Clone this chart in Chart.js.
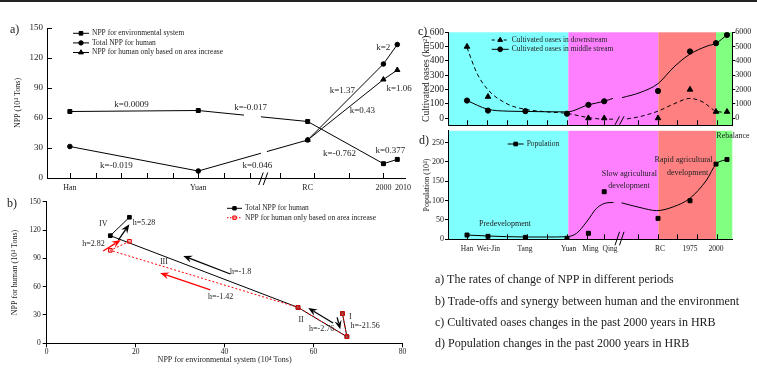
<!DOCTYPE html>
<html>
<head>
<meta charset="utf-8">
<title>NPP, oases and population in the HRB</title>
<script src="https://cdn.jsdelivr.net/npm/chart.js@4.4.1/dist/chart.umd.min.js"></script>
<style>
  body { margin: 0; background: #fff; font-family: "Liberation Serif", "Times New Roman", serif; color: #222; }
  #page { position: relative; width: 757px; height: 369px; overflow: hidden; }
  #page canvas { position: absolute; }
  .rule { position: absolute; left: 0; top: 0; width: 757px; height: 2px; background: #222; }
  .tag { position: absolute; font-size: 12px; line-height: 14px; }
  .cap { position: absolute; left: 435px; font-size: 12px; line-height: 14px; white-space: nowrap; }
</style>
</head>
<body>
<div id="page">
  <div class="rule"></div>
  <canvas id="npp" width="416" height="200" style="left:0;top:0"></canvas>
  <canvas id="trade" width="416" height="179" style="left:0;top:190px"></canvas>
  <canvas id="oases" width="341" height="112" style="left:416px;top:20px"></canvas>
  <canvas id="pop" width="341" height="135" style="left:416px;top:125px"></canvas>
  <div class="tag" style="left:10px;top:22px">a)</div>
  <div class="tag" style="left:7px;top:196px">b)</div>
  <div class="tag" style="left:418px;top:24px">c)</div>
  <div class="tag" style="left:419px;top:133px">d)</div>
  <div class="cap" style="top:272px">a) The rates of change of NPP in different periods</div>
  <div class="cap" style="top:293.5px">b) Trade-offs and synergy between human and the environment</div>
  <div class="cap" style="top:314.5px">c) Cultivated oases changes in the past 2000 years in HRB</div>
  <div class="cap" style="top:335.5px">d) Population changes in the past 2000 years in HRB</div>
</div>
<script>
Chart.defaults.font.family = "'Liberation Serif', 'Times New Roman', serif";
Chart.defaults.color = '#222';
Chart.defaults.animation = false;
Chart.defaults.events = [];
const FONT = "'Liberation Serif', 'Times New Roman', serif";

/* ---------- a) and b): NPP per period (10^4 Tons) ---------- */
const periodsA = ['Han', 'Yuan', 'RC', '2000', '2010'];
const periodPosA = [0, 5, 9.26, 12.21, 12.75];          // place on the broken time axis
const periodLabelPosA = [0, 5, 9.26, 12.21, 12.97];
const tickPosA = [0, 1, 2, 3, 4, 5, 6, 7, 8.18, 9.52, 10.88, 12.21];
const nppEnv = [66.5, 67.5, 56.5, 14.3, 18.6];          // NPP for environmental system
const nppHuman = [31.5, 7, 38, 114, 133.5];             // total NPP for human
const nppArea = [null, null, 38, 98.5, 108];            // NPP for human only based on area increase
const slopeText = ['k=0.0009', 'k=-0.017', 'k=1.37', 'k=0.43', 'k=-0.762', 'k=-0.019', 'k=0.046', 'k=2', 'k=1.06', 'k=0.377'];
const slopeAt = [[2.4, 73.7], [7.04, 70.4], [10.61, 87.7], [11.39, 67], [10.5, 24.4], [1.81, 12.7], [7.3, 12.7], [12.2, 130], [12.82, 89.4], [12.48, 27.7]];

const tradeText = ['IV', 'h=5.28', 'h=2.82', 'III', 'h=-1.8', 'h=-1.42', 'II', 'h=-2.76', 'I', 'h=-21.56'];
const tradeAt = [[12.7, 126], [21.9, 128], [10.5, 105.8], [26.35, 85.7], [43.6, 75.2], [39.1, 49.3], [57.2, 24.7], [61.8, 15.1], [68.25, 28.2], [71.6, 18.6]];
// arrows: from (x, y) to (x, y), colour
const tradeArrows = [
  [41.3, 73.4, 30.7, 92.5, '#000'],
  [36.8, 56.5, 25.5, 74.5, '#f00'],
  [16.1, 109.4, 18.6, 126, '#000'],
  [12.7, 97.8, 16.65, 109.4, '#f00'],
  [64.4, 21.5, 58.8, 37.4, '#000'],
  [65.3, 27.5, 66, 14.8, '#000']
];

/* ---------- c) and d): cultivated oases and population ---------- */
const stagePos = [0, 1.05, 2.92, 5, 6.07, 6.86, 9.55, 11.15, 12.45, 13];   // Han ... 2010
const stageLabels = ['Han', 'Wei-Jin', 'Tang', 'Yuan', 'Ming', 'Qing', 'RC', '1975', '2000'];
const stageLabelPos = [0, 1.07, 2.9, 5.08, 6.17, 7.15, 9.65, 11.15, 12.45];
const tickPosCD = [0, 1, 2, 3, 4, 5, 6, 6.87, 8.55, 9.55, 10.5, 11.5, 12.5];
const stageEdges = [5.065, 9.565, 12.45];
const stageColours = ['#80ffff', '#ff80ff', '#ff8080', '#80ff80'];
const downstream = [500, 150, null, null, 0, 0, 0, 200, 45, 45];               // km2
const midstream = [1230, 530, 490, 310, 930, 1180, 1900, 4660, 5240, 5820];    // km2
const population = [11, 7.7, 5, 2.6, 15.5, 122.7, 54, 99.5, 194, 206];        // 10^4
// fitted curves as drawn in the figure (null = axis break)
const downFit = [[0, 493], [0.5, 313], [1.03, 201], [2, 100], [2.9, 62], [4, 44], [5, 33], [6.07, 4], [6.87, -7], [7.3, -7], [7.65, null],
  [8, -5], [8.65, 11], [9.55, 49], [10.35, 100], [11.15, 138], [11.8, 112], [12.45, 49], [13, 40]];
const midFit = [[0, 1230], [1.03, 625], [2, 490], [2.9, 470], [4, 445], [5, 440], [6.07, 934], [6.87, 1183], [7.3, 1384], [7.55, null],
  [7.75, 1431], [8.65, 1788], [9.55, 2413], [10.35, 3582], [11.15, 4476], [12, 5034], [12.45, 5235], [13, 5820]];
const popFit = [[0, 11], [1.07, 8.5], [1.98, 6.8], [2.93, 5.9], [3.98, 5.9], [4.98, 6.8], [5.48, 15.4], [5.98, 45], [6.48, 80], [6.98, 94], [7.32, 95], [7.5, null],
  [7.73, 94], [8.65, 82], [9.48, 74], [10.32, 84], [11.15, 106], [11.98, 153], [12.45, 194], [12.98, 206]];
const stageNotes = ['Predevelopment', 'Slow agricultural', 'development', 'Rapid agricultural', 'development', 'Rebalance'];
const stageNotesAt = [[1.9, 38.6], [8.12, 169.9], [8.1, 137.2], [10.83, 205.9], [11.03, 172.5], [13.3, 268]];

/* ---------- helpers ---------- */
const toPts = (xs, ys) => xs.map((x, i) => ({ x: x, y: ys[i] }));
const pairs = arr => arr.map(p => ({ x: p[0], y: p[1] }));
const plain = v => String(v);

function drawArrow(ctx, x0, y0, x1, y1, color) {
  const a = Math.atan2(y1 - y0, x1 - x0), L = 9, W = 3.6;
  const c = Math.cos(a), s = Math.sin(a);
  ctx.strokeStyle = color; ctx.fillStyle = color; ctx.lineWidth = 1.3;
  ctx.beginPath(); ctx.moveTo(x0, y0); ctx.lineTo(x1 - L * 0.7 * c, y1 - L * 0.7 * s); ctx.stroke();
  ctx.beginPath();
  ctx.moveTo(x1, y1);
  ctx.lineTo(x1 - L * c - W * s, y1 - L * s + W * c);
  ctx.lineTo(x1 - L * 0.65 * c, y1 - L * 0.65 * s);
  ctx.lineTo(x1 - L * c + W * s, y1 - L * s - W * c);
  ctx.closePath(); ctx.fill();
}

function drawLegend(ctx, lg) {
  ctx.save();
  ctx.font = lg.font + 'px ' + FONT;
  ctx.textBaseline = 'middle';
  lg.items.forEach((it, i) => {
    const y = lg.y + i * lg.dy;
    ctx.strokeStyle = it.color; ctx.lineWidth = 1;
    ctx.setLineDash(it.dash || []);
    ctx.beginPath(); ctx.moveTo(lg.x, y); ctx.lineTo(lg.x + lg.len, y); ctx.stroke();
    ctx.setLineDash([]);
    ctx.fillStyle = it.fill || it.color;
    Chart.helpers.drawPoint(ctx, { pointStyle: it.style, radius: it.r || 2.6, rotation: 0, borderWidth: 1 }, lg.x + lg.len / 2, y);
    ctx.fillStyle = '#222';
    ctx.fillText(it.text, lg.x + lg.len + 3, y);
  });
  ctx.restore();
}

// decorations: stage bands, axis-break gaps, inward ticks, "//" marks, notes, arrows, legend
function makeDeco(cfg) {
  return {
    id: 'deco',
    beforeDraw(chart) {
      if (!cfg.bands) return;
      const { ctx, chartArea: ca } = chart, x = chart.scales.x;
      const edges = [x.min].concat(cfg.bands.edges, [x.max]);
      ctx.save();
      cfg.bands.colours.forEach((col, i) => {
        const x0 = x.getPixelForValue(edges[i]), x1 = x.getPixelForValue(edges[i + 1]);
        ctx.fillStyle = col;
        ctx.fillRect(x0, ca.top, x1 - x0, ca.bottom - ca.top);
      });
      ctx.restore();
    },
    afterDatasetsDraw(chart) {
      if (!cfg.gaps) return;
      const ctx = chart.ctx, x = chart.scales.x, y = chart.scales.y;
      ctx.save(); ctx.fillStyle = '#fff';
      cfg.gaps.forEach(g => {
        const x0 = x.getPixelForValue(g[0]), x1 = x.getPixelForValue(g[1]);
        const y0 = y.getPixelForValue(g[3]), y1 = y.getPixelForValue(g[2]);
        ctx.fillRect(x0, y0, x1 - x0, y1 - y0);
      });
      ctx.restore();
    },
    afterDraw(chart) {
      const { ctx, chartArea: ca } = chart;
      ctx.save();
      ctx.strokeStyle = '#000'; ctx.lineWidth = 1;
      (cfg.inTicks || []).forEach(t => {
        const s = chart.scales[t.axis];
        t.values.forEach(v => {
          const p = Math.round(s.getPixelForValue(v)) + 0.5;
          ctx.beginPath();
          if (s.isHorizontal()) { ctx.moveTo(p, ca.bottom); ctx.lineTo(p, ca.bottom - t.len); }
          else { ctx.moveTo(ca.left, p); ctx.lineTo(ca.left + t.len, p); }
          ctx.stroke();
        });
      });
      (cfg.breaks || []).forEach(b => {
        const p = chart.scales.x.getPixelForValue(b.v), y0 = ca.bottom + b.lo, y1 = ca.bottom + b.hi;
        ctx.lineWidth = 1;
        [-3, 1.5].forEach(d => {
          ctx.beginPath(); ctx.moveTo(p + d - 2, y0); ctx.lineTo(p + d + 2.5, y1); ctx.stroke();
        });
      });
      if (cfg.arrows) {
        const x = chart.scales.x, y = chart.scales.y;
        cfg.arrows.forEach(a => drawArrow(ctx, x.getPixelForValue(a[0]), y.getPixelForValue(a[1]),
          x.getPixelForValue(a[2]), y.getPixelForValue(a[3]), a[4]));
      }
      if (cfg.notes) {
        const x = chart.scales.x, y = chart.scales[cfg.notes.yAxis || 'y'];
        ctx.font = cfg.notes.font + 'px ' + FONT;
        ctx.fillStyle = '#222'; ctx.textAlign = 'center'; ctx.textBaseline = 'middle';
        cfg.notes.text.forEach((t, i) => {
          ctx.fillText(t, x.getPixelForValue(cfg.notes.at[i][0]), y.getPixelForValue(cfg.notes.at[i][1]));
        });
      }
      ctx.restore();
      if (cfg.legend) drawLegend(ctx, cfg.legend);
    }
  };
}

const noGrid = { display: false, drawTicks: false };
const outGrid = { drawOnChartArea: false, tickLength: 4, color: '#000' };
const blackBorder = { color: '#000', width: 1 };

/* ---------- a) rates of change of NPP ---------- */
new Chart(document.getElementById('npp'), {
  type: 'line',
  data: {
    datasets: [
      { label: 'NPP for environmental system', data: toPts(periodPosA, nppEnv), borderColor: '#000', borderWidth: 1,
        pointStyle: 'rect', pointRadius: 2.8, pointBackgroundColor: '#000', pointBorderColor: '#000' },
      { label: 'Total NPP for human', data: toPts(periodPosA, nppHuman), borderColor: '#000', borderWidth: 1,
        pointStyle: 'circle', pointRadius: 2.3, pointBackgroundColor: '#000', pointBorderColor: '#000' },
      { label: 'NPP for human only based on area increase', data: toPts(periodPosA, nppArea), borderColor: '#000', borderWidth: 1,
        pointStyle: 'triangle', pointRadius: 3, pointBackgroundColor: '#000', pointBorderColor: '#000' }
    ]
  },
  options: {
    responsive: false,
    layout: { padding: { top: 28, right: 9 } },
    plugins: { legend: { display: false }, tooltip: { enabled: false } },
    scales: {
      x: {
        type: 'linear', min: -0.89, max: 13.06,
        afterFit: s => { s.height = 22; },
        afterBuildTicks: s => { s.ticks = periodLabelPosA.map(v => ({ value: v })); },
        ticks: { autoSkip: false, maxRotation: 0, padding: 5, font: { size: 8 }, callback: (v, i) => periodsA[i] },
        grid: noGrid, border: blackBorder
      },
      y: {
        min: 0, max: 150,
        afterFit: s => { s.width = 47; },
        ticks: { stepSize: 30, padding: 4, font: { size: 9 } },
        grid: noGrid, border: blackBorder,
        title: { display: true, text: 'NPP (10\u2074 Tons)', font: { size: 8 }, padding: { top: 13, bottom: 0 } }
      }
    }
  },
  plugins: [makeDeco({
    gaps: [[6.78, 7.44, 55, 68], [7.44, 7.67, 18, 32]],
    inTicks: [{ axis: 'x', values: tickPosA, len: 5 }, { axis: 'y', values: [0, 30, 60, 90, 120, 150], len: 5 }],
    breaks: [{ v: 7.55, lo: 7, hi: -5.5 }],
    notes: { text: slopeText, at: slopeAt, font: 9 },
    legend: { x: 73, y: 33.3, dy: 9.6, len: 16, font: 7.5, items: [
      { text: 'NPP for environmental system', color: '#000', style: 'rect', r: 2.6 },
      { text: 'Total NPP for human', color: '#000', style: 'circle', r: 2.2 },
      { text: 'NPP for human only based on area increase', color: '#000', style: 'triangle', r: 2.8 }
    ] }
  })]
});

/* ---------- b) trade-offs and synergy ---------- */
const areaHuman = nppArea.map((v, i) => (v === null ? nppHuman[i] : v));
new Chart(document.getElementById('trade'), {
  type: 'line',
  data: {
    datasets: [
      { label: 'Total NPP for human', data: toPts(nppEnv, nppHuman), borderColor: '#000', borderWidth: 1, order: 1,
        pointStyle: 'rect', pointRadius: 2.6, pointBackgroundColor: '#000', pointBorderColor: '#000' },
      { label: 'NPP for human only based on area increase', data: toPts(nppEnv, areaHuman), borderColor: '#f00', borderWidth: 1,
        borderDash: [2, 2], order: 0,
        pointStyle: 'rect', pointRadius: 2.6, pointBackgroundColor: 'rgba(255,120,120,0.55)', pointBorderColor: '#e00000' }
    ]
  },
  options: {
    responsive: false,
    layout: { padding: { top: 11.7, right: 13.5 } },
    plugins: { legend: { display: false }, tooltip: { enabled: false } },
    scales: {
      x: {
        type: 'linear', min: 0, max: 80,
        afterFit: s => { s.height = 25.7; },
        ticks: { stepSize: 20, padding: 0, font: { size: 7.5 } },
        grid: outGrid, border: blackBorder,
        title: { display: true, text: 'NPP for environmental system (10\u2074 Tons)', font: { size: 8 }, padding: { top: 0, bottom: 4 } }
      },
      y: {
        min: 0, max: 150,
        afterFit: s => { s.width = 46.7; },
        ticks: { stepSize: 30, padding: 2, font: { size: 7.5 } },
        grid: outGrid, border: blackBorder,
        title: { display: true, text: 'NPP for human (10\u2074 Tons)', font: { size: 8 }, padding: { top: 10, bottom: 0 } }
      }
    }
  },
  plugins: [makeDeco({
    arrows: tradeArrows,
    notes: { text: tradeText, at: tradeAt, font: 8 },
    legend: { x: 227, y: 18.3, dy: 9.4, len: 15, font: 7.5, items: [
      { text: 'Total NPP for human', color: '#000', style: 'rect', r: 2.4 },
      { text: 'NPP for human only based on area increase', color: '#f00', dash: [1.5, 1.5], style: 'rect', r: 2.4, fill: 'rgba(255,120,120,0.55)' }
    ] }
  })]
});

/* ---------- c) cultivated oases ---------- */
const stageX = { type: 'linear', min: -0.95, max: 13.265 };
new Chart(document.getElementById('oases'), {
  type: 'line',
  data: {
    datasets: [
      { label: 'Cultivated oases in downstream', data: toPts(stagePos, downstream), showLine: false, yAxisID: 'y', order: 0,
        pointStyle: 'triangle', pointRadius: 3.2, pointBackgroundColor: '#000', pointBorderColor: '#000' },
      { label: 'Cultivated oases in middle stream', data: toPts(stagePos, midstream), showLine: false, yAxisID: 'y2', order: 0,
        pointStyle: 'circle', pointRadius: 2.6, pointBackgroundColor: '#000', pointBorderColor: '#000' },
      { label: 'downstream fit', data: pairs(downFit), yAxisID: 'y', order: 1, borderColor: '#000', borderWidth: 1,
        borderDash: [4, 3], pointRadius: 0, cubicInterpolationMode: 'monotone', spanGaps: false },
      { label: 'middle stream fit', data: pairs(midFit), yAxisID: 'y2', order: 1, borderColor: '#000', borderWidth: 1,
        pointRadius: 0, cubicInterpolationMode: 'monotone', spanGaps: false }
    ]
  },
  options: {
    responsive: false,
    layout: { padding: { top: 12.3 } },
    plugins: { legend: { display: false }, tooltip: { enabled: false } },
    scales: {
      x: Object.assign({}, stageX, {
        afterFit: s => { s.height = 3; },
        ticks: { display: false }, grid: noGrid, border: blackBorder
      }),
      y: {
        min: -50, max: 600,
        afterFit: s => { s.width = 32; },
        afterBuildTicks: s => { s.ticks = [0, 100, 200, 300, 400, 500, 600].map(v => ({ value: v })); },
        ticks: { padding: 1, font: { size: 9.5 }, callback: plain },
        grid: { drawOnChartArea: false, tickLength: 3, color: '#000' }, border: blackBorder,
        title: { display: true, text: 'Cultivated oases (km\u00b2)', font: { size: 9.5 }, padding: { top: 5, bottom: 0 } }
      },
      y2: {
        position: 'right', min: -500, max: 6000,
        afterFit: s => { s.width = 24.7; },
        afterBuildTicks: s => { s.ticks = [0, 1000, 2000, 3000, 4000, 5000, 6000].map(v => ({ value: v })); },
        ticks: { padding: 0, font: { size: 8 }, callback: plain },
        grid: { drawOnChartArea: false, tickLength: 3, color: '#000' }, border: blackBorder
      }
    }
  },
  plugins: [makeDeco({
    bands: { edges: stageEdges, colours: stageColours },
    inTicks: [{ axis: 'x', values: tickPosCD, len: 5 }],
    breaks: [{ v: 7.65, lo: -0.5, hi: -9 }],
    legend: { x: 75.7, y: 20, dy: 9.3, len: 17, font: 7.5, items: [
      { text: 'Cultivated oases in downstream', color: '#000', dash: [3, 3], style: 'triangle', r: 2.8 },
      { text: 'Cultivated oases in middle stream', color: '#000', style: 'circle', r: 2.4 }
    ] }
  })]
});

/* ---------- d) population ---------- */
new Chart(document.getElementById('pop'), {
  type: 'line',
  data: {
    datasets: [
      { label: 'Population', data: toPts(stagePos, population), showLine: false, order: 0,
        pointStyle: 'rect', pointRadius: 2.8, pointBackgroundColor: '#000', pointBorderColor: '#000' },
      { label: 'population fit', data: pairs(popFit), order: 1, borderColor: '#000', borderWidth: 1,
        pointRadius: 0, cubicInterpolationMode: 'monotone', spanGaps: false }
    ]
  },
  options: {
    responsive: false,
    layout: { padding: { top: 5, right: 24.7 } },
    plugins: { legend: { display: false }, tooltip: { enabled: false } },
    scales: {
      x: Object.assign({}, stageX, {
        afterFit: s => { s.height = 20.7; },
        afterBuildTicks: s => { s.ticks = stageLabelPos.map(v => ({ value: v })); },
        ticks: { autoSkip: false, maxRotation: 0, padding: 5, font: { size: 7.5 }, callback: (v, i) => stageLabels[i] },
        grid: noGrid, border: blackBorder
      }),
      y: {
        min: 0, max: 280,
        afterFit: s => { s.width = 32; },
        afterBuildTicks: s => { s.ticks = [0, 50, 100, 150, 200, 250].map(v => ({ value: v })); },
        ticks: { padding: 1, font: { size: 8 } },
        grid: { drawOnChartArea: false, tickLength: 3, color: '#000' }, border: blackBorder,
        title: { display: true, text: 'Population (10\u2074)', font: { size: 8 }, padding: { top: 6, bottom: 0 } }
      }
    }
  },
  plugins: [makeDeco({
    bands: { edges: stageEdges, colours: stageColours },
    inTicks: [{ axis: 'x', values: tickPosCD, len: 5 }],
    breaks: [{ v: 7.65, lo: 6, hi: -7.5 }],
    notes: { text: stageNotes, at: stageNotesAt, font: 8 },
    legend: { x: 91.7, y: 19, dy: 10, len: 16, font: 7.5, items: [
      { text: 'Population', color: '#000', style: 'rect', r: 2.6 }
    ] }
  })]
});
</script>
</body>
</html>
